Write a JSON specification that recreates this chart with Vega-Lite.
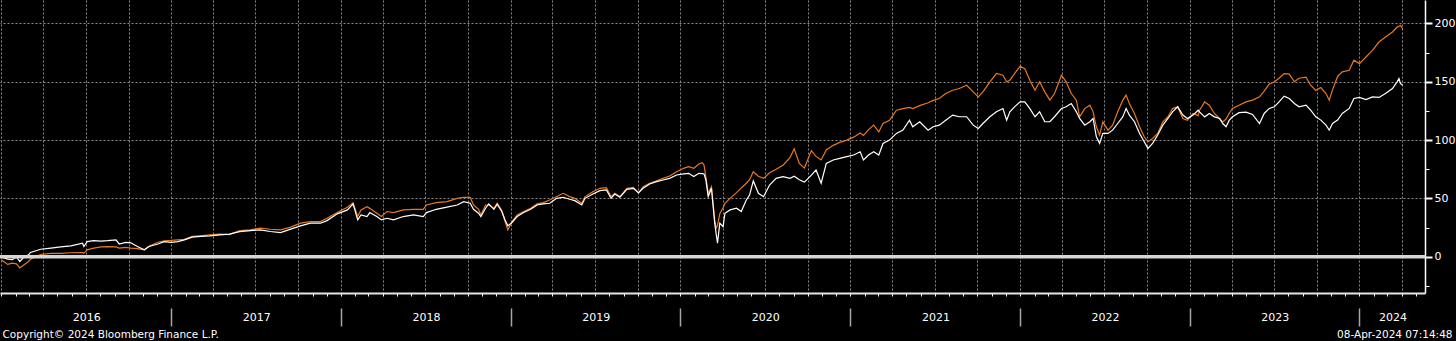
{
 "$schema": "https://vega.github.io/schema/vega-lite/v6.json",
 "background": "#000000",
 "autosize": {"type": "none"},
 "padding": {"left": 0, "top": 0, "right": 31, "bottom": 48},
 "width": 1425,
 "height": 293,
 "config": {"view": {"stroke": null}, "font": "DejaVu Sans"},
 "data": {"values": [
{"d":"2016-01-01","w":0,"o":-2.5},{"d":"2016-01-15","w":-2,"o":-6.5},{"d":"2016-01-25","w":-2.5,"o":-5.5},{"d":"2016-02-03","w":0,"o":-6},{"d":"2016-02-10","w":-4,"o":-9.5},{"d":"2016-02-17","w":-1,"o":-7.5},{"d":"2016-02-29","w":1.7,"o":-4},{"d":"2016-03-04","w":3.7,"o":-2},{"d":"2016-03-26","w":6.5,"o":2},{"d":"2016-04-17","w":7.5,"o":3},{"d":"2016-05-08","w":8.5,"o":3},{"d":"2016-05-30","w":9.4,"o":3.5},{"d":"2016-06-24","w":11.7,"o":3.7},{"d":"2016-06-27","w":8.8,"o":3},{"d":"2016-07-04","w":13,"o":6},{"d":"2016-07-18","w":13.8,"o":7.5},{"d":"2016-08-03","w":13.5,"o":8.5},{"d":"2016-08-17","w":13.8,"o":8.8},{"d":"2016-09-04","w":14.5,"o":8.5},{"d":"2016-09-11","w":11,"o":7.5},{"d":"2016-09-25","w":12.3,"o":8},{"d":"2016-10-06","w":12,"o":7.5},{"d":"2016-10-20","w":8.8,"o":7},{"d":"2016-11-04","w":6,"o":6},{"d":"2016-11-14","w":8.8,"o":9},{"d":"2016-12-03","w":11,"o":12.5},{"d":"2016-12-17","w":13,"o":13.7},
{"d":"2017-01-01","w":12.3,"o":14},{"d":"2017-01-15","w":13,"o":14.5},{"d":"2017-01-29","w":14.5,"o":15},{"d":"2017-02-15","w":16.8,"o":17.5},{"d":"2017-03-04","w":17.5,"o":18},{"d":"2017-03-25","w":18,"o":18.8},{"d":"2017-04-15","w":18.8,"o":19.5},{"d":"2017-05-06","w":19.4,"o":19},{"d":"2017-05-28","w":21.5,"o":22.5},{"d":"2017-06-20","w":22.5,"o":23.1},{"d":"2017-07-11","w":23.1,"o":24.5},{"d":"2017-08-02","w":21.7,"o":23.6},{"d":"2017-08-24","w":20.8,"o":23.1},{"d":"2017-09-15","w":23.7,"o":25.4},{"d":"2017-10-06","w":26.5,"o":28.8},{"d":"2017-10-27","w":28.8,"o":30.2},{"d":"2017-11-18","w":28.8,"o":30.2},{"d":"2017-12-02","w":31,"o":33},{"d":"2017-12-24","w":36.8,"o":37.9},
{"d":"2018-01-15","w":40.2,"o":42.5},{"d":"2018-01-27","w":45.3,"o":46.4},{"d":"2018-02-06","w":31.6,"o":34.5},{"d":"2018-02-13","w":35.9,"o":40.2},{"d":"2018-02-26","w":34.5,"o":43},{"d":"2018-03-04","w":37.9,"o":41.5},{"d":"2018-03-19","w":34.5,"o":37.3},{"d":"2018-03-29","w":31.6,"o":34.5},{"d":"2018-04-10","w":33,"o":38.8},{"d":"2018-04-24","w":31.6,"o":37.9},{"d":"2018-05-15","w":34.5,"o":40.2},{"d":"2018-06-06","w":35.9,"o":40.7},{"d":"2018-06-27","w":34.5,"o":40.7},{"d":"2018-07-04","w":37.9,"o":44.4},{"d":"2018-07-25","w":40.7,"o":46.4},{"d":"2018-08-17","w":42.5,"o":47.3},{"d":"2018-09-08","w":44.4,"o":50.1},{"d":"2018-09-22","w":47.3,"o":51},{"d":"2018-10-06","w":45.9,"o":51},{"d":"2018-10-13","w":40.7,"o":44.4},{"d":"2018-10-24","w":37.3,"o":40.7},{"d":"2018-10-29","w":34.5,"o":35.9},{"d":"2018-11-08","w":41.6,"o":44.4},{"d":"2018-11-15","w":45.3,"o":44.4},{"d":"2018-11-26","w":40.7,"o":41.6},{"d":"2018-12-03","w":45,"o":45.9},{"d":"2018-12-13","w":38.8,"o":39.6},{"d":"2018-12-20","w":31.6,"o":30.2},{"d":"2018-12-26","w":26.5,"o":23.1},
{"d":"2019-01-04","w":29.4,"o":30.2},{"d":"2019-01-15","w":34.5,"o":35.9},{"d":"2019-01-29","w":37.9,"o":38.8},{"d":"2019-02-13","w":40.7,"o":41.6},{"d":"2019-02-27","w":44.4,"o":45.3},{"d":"2019-03-12","w":45.3,"o":46.4},{"d":"2019-03-26","w":45.9,"o":48.7},{"d":"2019-04-10","w":50.1,"o":51.6},{"d":"2019-04-24","w":51,"o":54.4},{"d":"2019-05-08","w":49.3,"o":51.6},{"d":"2019-05-19","w":48.1,"o":50.1},{"d":"2019-06-03","w":44.4,"o":45.9},{"d":"2019-06-10","w":50.1,"o":51.6},{"d":"2019-06-27","w":53.8,"o":55.8},{"d":"2019-07-12","w":56.7,"o":58.7},{"d":"2019-07-26","w":57.3,"o":59.3},{"d":"2019-08-05","w":50.1,"o":51.6},{"d":"2019-08-13","w":53.8,"o":54.4},{"d":"2019-08-24","w":51,"o":51.6},{"d":"2019-09-08","w":57.8,"o":58.7},{"d":"2019-09-22","w":58.7,"o":59.5},{"d":"2019-10-03","w":55,"o":54.4},{"d":"2019-10-13","w":58.7,"o":60.1},{"d":"2019-10-27","w":62.4,"o":63},{"d":"2019-11-11","w":64.4,"o":65.2},{"d":"2019-11-25","w":65.8,"o":67.2},{"d":"2019-12-09","w":67.2,"o":69.2},{"d":"2019-12-24","w":70.1,"o":72.9},
{"d":"2020-01-08","w":71,"o":75.8},{"d":"2020-01-19","w":71.5,"o":77.2},{"d":"2020-01-30","w":68.7,"o":75.8},{"d":"2020-02-10","w":71.5,"o":79.5},{"d":"2020-02-17","w":71.2,"o":80.6},{"d":"2020-02-21","w":71,"o":78.6},{"d":"2020-02-25","w":65.8,"o":68.7},{"d":"2020-03-01","w":51.6,"o":54.4},{"d":"2020-03-08","w":58.7,"o":60.1},{"d":"2020-03-15","w":28.8,"o":31.6},{"d":"2020-03-18","w":20,"o":24.5},{"d":"2020-03-21","w":11.7,"o":27},{"d":"2020-03-26","w":28.8,"o":37},{"d":"2020-04-02","w":25.9,"o":42},{"d":"2020-04-06","w":37.3,"o":45.9},{"d":"2020-04-17","w":40.2,"o":50.1},{"d":"2020-05-01","w":41.6,"o":55},{"d":"2020-05-11","w":38.8,"o":59},{"d":"2020-05-22","w":48.7,"o":63},{"d":"2020-05-29","w":52.9,"o":66},{"d":"2020-06-06","w":65,"o":72.9},{"d":"2020-06-17","w":54.4,"o":69},{"d":"2020-06-28","w":51.5,"o":67.2},{"d":"2020-07-11","w":61.5,"o":72},{"d":"2020-07-25","w":67.2,"o":75},{"d":"2020-08-09","w":68.7,"o":78.5},{"d":"2020-08-24","w":67.2,"o":85},{"d":"2020-09-02","w":69,"o":92.5},{"d":"2020-09-13","w":66,"o":80},{"d":"2020-09-24","w":64,"o":76},{"d":"2020-10-09","w":70,"o":91},{"d":"2020-10-19","w":74.4,"o":86},{"d":"2020-10-30","w":63,"o":83},{"d":"2020-11-10","w":80,"o":91.5},{"d":"2020-11-25","w":82.9,"o":95.5},{"d":"2020-12-09","w":84.3,"o":98},{"d":"2020-12-24","w":85.8,"o":100},
{"d":"2021-01-08","w":87.2,"o":102.5},{"d":"2021-01-22","w":90,"o":106},{"d":"2021-01-29","w":82.9,"o":104},{"d":"2021-02-09","w":87.2,"o":109},{"d":"2021-02-20","w":90,"o":112.8},{"d":"2021-03-03","w":87.2,"o":107},{"d":"2021-03-12","w":97.1,"o":114.2},{"d":"2021-03-26","w":100,"o":117},{"d":"2021-04-10","w":105.7,"o":125.6},{"d":"2021-04-24","w":108.5,"o":127},{"d":"2021-05-08","w":117,"o":128},{"d":"2021-05-15","w":111.4,"o":127},{"d":"2021-05-30","w":115.7,"o":129.5},{"d":"2021-06-17","w":108.5,"o":132},{"d":"2021-06-28","w":111.4,"o":134},{"d":"2021-07-11","w":112.8,"o":135.6},{"d":"2021-07-25","w":117,"o":139.9},{"d":"2021-08-09","w":121.4,"o":142.7},{"d":"2021-08-23","w":120,"o":144.2},{"d":"2021-09-08","w":120,"o":147},{"d":"2021-09-22","w":112.8,"o":141.3},{"d":"2021-10-03","w":109.9,"o":137},{"d":"2021-10-13","w":114.2,"o":141.3},{"d":"2021-10-28","w":120,"o":149.9},{"d":"2021-11-11","w":124.2,"o":157},{"d":"2021-11-25","w":127,"o":155.6},{"d":"2021-12-03","w":117,"o":150},{"d":"2021-12-10","w":124.2,"o":151.3},{"d":"2021-12-20","w":128.5,"o":157},
{"d":"2022-01-01","w":132.8,"o":163.2},{"d":"2022-01-11","w":132.8,"o":161.2},{"d":"2022-01-22","w":127,"o":151.3},{"d":"2022-02-02","w":120,"o":142.7},{"d":"2022-02-12","w":124.2,"o":149.9},{"d":"2022-02-23","w":115.7,"o":141.3},{"d":"2022-03-06","w":115.7,"o":134.2},{"d":"2022-03-16","w":120,"o":139.9},{"d":"2022-03-31","w":127,"o":155.6},{"d":"2022-04-10","w":128.5,"o":149.9},{"d":"2022-04-21","w":131.3,"o":139.9},{"d":"2022-05-02","w":124.2,"o":134.2},{"d":"2022-05-09","w":118.5,"o":119.9},{"d":"2022-05-20","w":112.8,"o":127},{"d":"2022-05-31","w":115.7,"o":129.9},{"d":"2022-06-07","w":118.5,"o":124.2},{"d":"2022-06-14","w":102.8,"o":111.4},{"d":"2022-06-21","w":97.2,"o":104.3},{"d":"2022-06-28","w":105.7,"o":115.7},{"d":"2022-07-09","w":105.7,"o":108.5},{"d":"2022-07-19","w":108.5,"o":112.8},{"d":"2022-07-30","w":114.2,"o":124.2},{"d":"2022-08-10","w":120,"o":134.2},{"d":"2022-08-17","w":127,"o":138.5},{"d":"2022-08-24","w":121.4,"o":131.3},{"d":"2022-09-04","w":115.7,"o":122.8},{"d":"2022-09-15","w":105.7,"o":111.4},{"d":"2022-09-25","w":98.6,"o":102.8},{"d":"2022-10-03","w":92.9,"o":98.6},{"d":"2022-10-13","w":97.2,"o":101.4},{"d":"2022-10-24","w":104.3,"o":105.7},{"d":"2022-11-04","w":112.8,"o":115.7},{"d":"2022-11-15","w":118.5,"o":120},{"d":"2022-11-25","w":124.2,"o":127},{"d":"2022-12-06","w":128.5,"o":128.5},{"d":"2022-12-17","w":121.4,"o":118.5},{"d":"2022-12-27","w":118.5,"o":117},
{"d":"2023-01-08","w":121.4,"o":122.8},{"d":"2023-01-19","w":125.6,"o":121},{"d":"2023-01-22","w":124.2,"o":125.6},{"d":"2023-02-02","w":119.9,"o":132.7},{"d":"2023-02-12","w":122.8,"o":129.9},{"d":"2023-02-23","w":119.9,"o":122.8},{"d":"2023-03-06","w":118.5,"o":118.5},{"d":"2023-03-13","w":114.2,"o":115.6},{"d":"2023-03-20","w":111.4,"o":118},{"d":"2023-03-27","w":117.1,"o":123},{"d":"2023-04-03","w":120,"o":127.1},{"d":"2023-04-17","w":123.5,"o":129.9},{"d":"2023-05-02","w":124,"o":132.7},{"d":"2023-05-16","w":122,"o":134.2},{"d":"2023-05-31","w":114.2,"o":137},{"d":"2023-06-10","w":122.8,"o":142},{"d":"2023-06-21","w":127.1,"o":148},{"d":"2023-07-02","w":128.5,"o":150},{"d":"2023-07-12","w":132.7,"o":153},{"d":"2023-07-23","w":137.6,"o":157},{"d":"2023-08-03","w":135.6,"o":156.5},{"d":"2023-08-14","w":131.3,"o":150},{"d":"2023-08-24","w":128.5,"o":153},{"d":"2023-09-08","w":129.9,"o":154},{"d":"2023-09-18","w":125.6,"o":147},{"d":"2023-09-29","w":119.9,"o":142.5},{"d":"2023-10-10","w":117.1,"o":145},{"d":"2023-10-21","w":112.8,"o":139.9},{"d":"2023-10-28","w":108.5,"o":134.2},{"d":"2023-11-04","w":114.2,"o":143},{"d":"2023-11-15","w":117.1,"o":154.5},{"d":"2023-11-25","w":122.8,"o":158.4},{"d":"2023-12-10","w":127.1,"o":159.8},{"d":"2023-12-20","w":135.6,"o":168.4},
{"d":"2024-01-01","w":136.5,"o":165.5},{"d":"2024-01-15","w":134.7,"o":171.2},{"d":"2024-01-29","w":137,"o":176.9},{"d":"2024-02-12","w":136.5,"o":184},{"d":"2024-02-26","w":139.9,"o":188.3},{"d":"2024-03-12","w":144.2,"o":192.6},{"d":"2024-03-22","w":149.9,"o":196.8},{"d":"2024-03-26","w":152.7,"o":197.5},{"d":"2024-03-29","w":148.5,"o":198.3},{"d":"2024-04-03","w":147,"o":195.4}
 ]},
 "resolve": {"axis": {"x": "independent", "y": "independent"}},
 "layer": [
  {
   "mark": {"type": "line", "color": "#e8781f", "strokeWidth": 1.2},
   "encoding": {
    "x": {"field": "d", "type": "temporal",
     "scale": {"type": "utc", "domain": [{"year": 2015, "month": 12, "date": 29, "hours": 12, "utc": true}, {"year": 2024, "month": 5, "date": 21, "utc": true}]},
     "axis": {"orient": "bottom", "offset": 15, "tickCount": {"interval": "year", "step": 1},
      "domain": false, "grid": false, "ticks": true, "tickSize": 18, "tickColor": "#a6a6a6", "tickWidth": 1.5,
      "tickOpacity": {"condition": {"test": "utcyear(datum.value) == 2016", "value": 0}, "value": 1},
      "labels": true, "labelExpr": "utcFormat(datum.value, '%Y')", "labelColor": "#ffffff", "labelFont": "DejaVu Sans", "labelFontSize": 11,
      "labelBaseline": "middle", "labelAlign": "center", "labelPadding": -8.5, "labelFlush": false, "labelOverlap": false, "labelBound": false,
      "labelOffset": {"condition": {"test": "utcyear(datum.value) >= 2024", "value": 33}, "value": 85},
      "title": "Copyright© 2024 Bloomberg Finance L.P.", "titleX": 2, "titleY": 29, "titleAlign": "left", "titleAnchor": "start", "titleBaseline": "alphabetic",
      "titleColor": "#ffffff", "titleFont": "DejaVu Sans", "titleFontSize": 10.5, "titleFontWeight": "normal"}},
    "y": {"field": "o", "type": "quantitative",
     "scale": {"domain": [-31, 220], "nice": false, "zero": false},
     "axis": {"orient": "right", "values": [-25, 25, 75, 125, 175], "domain": false, "labels": false, "grid": false, "ticks": true, "tickSize": 4, "tickColor": "#ffffff", "title": null}}
   }
  },
  {
   "mark": {"type": "line", "color": "#ffffff", "strokeWidth": 1.2},
   "encoding": {
    "x": {"field": "d", "type": "temporal",
     "scale": {"type": "utc", "domain": [{"year": 2015, "month": 12, "date": 29, "hours": 12, "utc": true}, {"year": 2024, "month": 5, "date": 21, "utc": true}]},
     "axis": {"orient": "bottom", "offset": 0, "tickCount": {"interval": "month", "step": 1},
      "labels": false, "ticks": true, "tickSize": 3, "tickColor": "#ffffff", "tickWidth": 1,
      "domain": true, "domainColor": "#e6e6e6", "domainWidth": 2,
      "grid": true, "gridColor": "#8c8c8c", "gridDash": [2, 2], "gridWidth": 1,
      "gridOpacity": {"condition": {"test": "utcmonth(datum.value) % 3 == 0", "value": 1}, "value": 0},
      "title": "08-Apr-2024 07:14:48", "titleX": 1452, "titleY": 44, "titleAlign": "right", "titleAnchor": "end", "titleBaseline": "alphabetic",
      "titleColor": "#ffffff", "titleFont": "DejaVu Sans", "titleFontSize": 10.5, "titleFontWeight": "normal"}},
    "y": {"field": "w", "type": "quantitative",
     "scale": {"domain": [-31, 220], "nice": false, "zero": false},
     "axis": {"orient": "right", "values": [0, 50, 100, 150, 200], "domain": true, "domainColor": "#ffffff", "domainWidth": 1.5,
      "ticks": true, "tickSize": 7, "tickColor": "#ffffff", "tickWidth": 2, "labelPadding": 2, "labelColor": "#ffffff",
      "labelFont": "DejaVu Sans", "labelFontSize": 11, "labelBaseline": "middle",
      "grid": true, "gridColor": "#8c8c8c", "gridDash": [2, 2], "gridWidth": 1, "title": null}}
   }
  },
  {
   "data": {"values": [{}]},
   "mark": {"type": "rule", "color": "#d6d6d6", "strokeWidth": 3.5},
   "encoding": {"y": {"datum": 0, "type": "quantitative", "axis": null}}
  }
 ]
}
